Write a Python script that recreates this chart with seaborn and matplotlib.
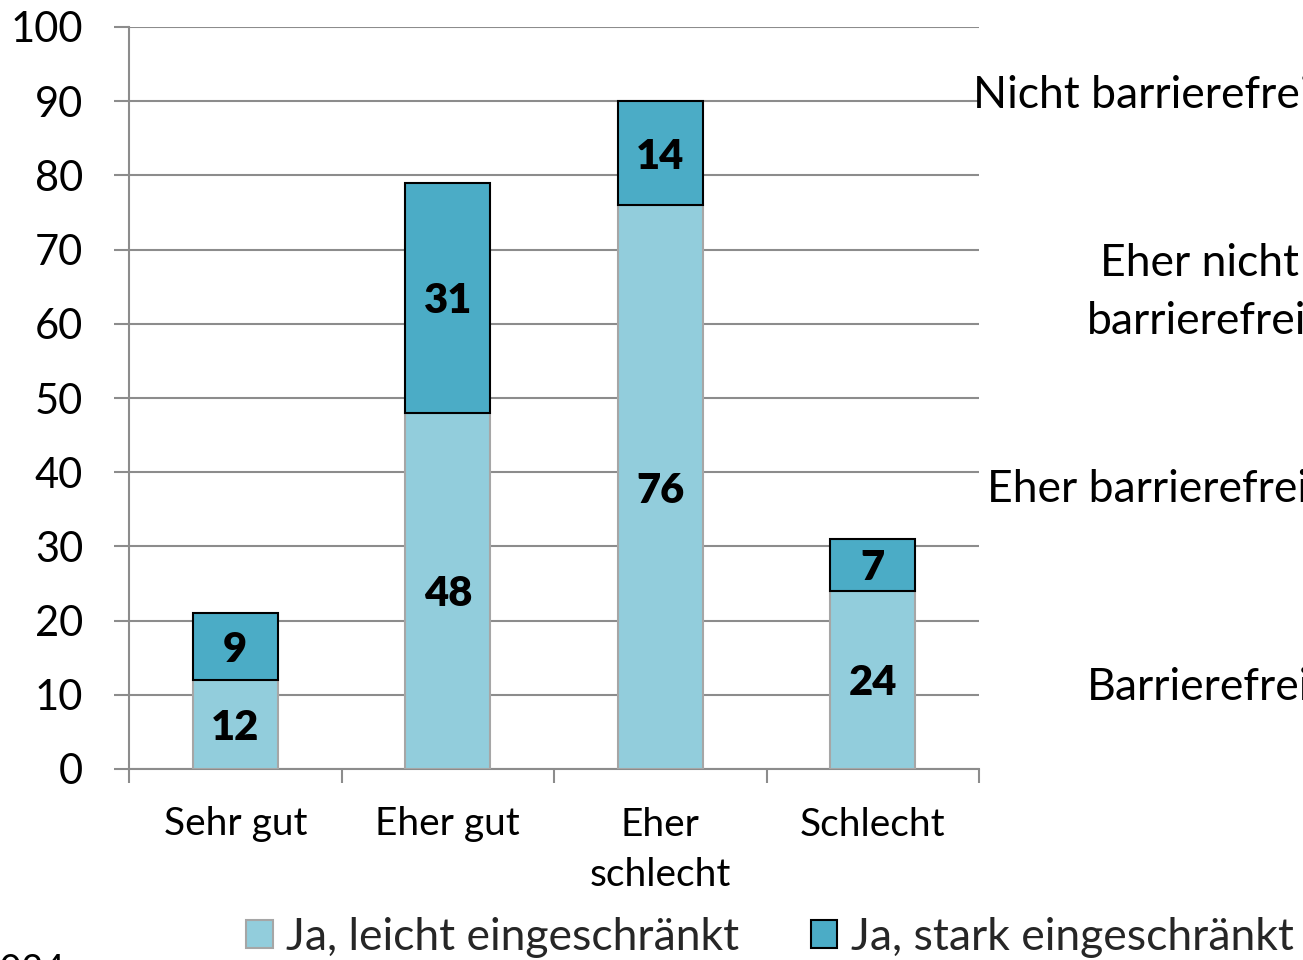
import matplotlib
matplotlib.use("Agg")
import matplotlib.pyplot as plt
from matplotlib.patches import Patch
import seaborn as sns
import pandas as pd
import numpy as np

# Data
categories = ["Sehr gut", "Eher gut", "Eher\nschlecht", "Schlecht"]
leicht = [12, 48, 76, 24]
stark = [9, 31, 14, 7]
series_names = ["Ja, leicht eingeschränkt", "Ja, stark eingeschränkt"]
y_ticks = [0, 10, 20, 30, 40, 50, 60, 70, 80, 90, 100]
side_labels = ["Nicht barrierefrei", "Eher nicht", "barrierefrei", "Eher barrierefrei", "Barrierefrei"]

LIGHT = "#92CDDC"
DARK = "#4BACC6"
GRID = "#8C8C8C"

sns.set_theme(style="white")
plt.rcParams["font.family"] = ["Lato", "DejaVu Sans"]

W, H = 1303, 960
fig = plt.figure(figsize=(W / 100, H / 100), dpi=100)
ax = fig.add_axes([129 / W, 1 - 769 / H, (979 - 129) / W, (769 - 27) / H])

df = pd.DataFrame({"cat": categories, "leicht": leicht, "stark": stark})

# Lower segment
sns.barplot(data=df, x="cat", y="leicht", color=LIGHT, width=0.4,
            edgecolor="#A6A6A6", linewidth=1.5, saturation=1, ax=ax, zorder=3)
# Upper segment stacked on top
xpos = np.arange(len(categories))
ax.bar(xpos, stark, bottom=leicht, width=0.4, color=DARK,
       edgecolor="black", linewidth=1.5, zorder=4)

# Value labels in the middle of each segment
for i in range(len(categories)):
    ax.text(i, leicht[i] / 2, str(leicht[i]), ha="center", va="center_baseline",
            fontsize=30, fontweight="heavy", color="black", zorder=5)
    ax.text(i, leicht[i] + stark[i] / 2, str(stark[i]), ha="center", va="center_baseline",
            fontsize=30, fontweight="heavy", color="black", zorder=5)

ax.set_xlim(-0.5, len(categories) - 0.5)
ax.set_ylim(0, 100)
ax.set_yticks(y_ticks)
ax.set_yticklabels([str(t) for t in y_ticks], fontsize=30)
ax.yaxis.grid(True, color=GRID, linewidth=1.5, zorder=0)
ax.set_axisbelow(True)
ax.set_xlabel("")
ax.set_ylabel("")

# Category labels at bar centres, tick marks at category boundaries
ax.set_xticks(xpos)
ax.set_xticklabels(categories, fontsize=28, linespacing=1.5)
ax.set_xticks(np.arange(len(categories) + 1) - 0.5, minor=True)
ax.tick_params(axis="x", which="major", length=0, pad=27, labelcolor="black")
ax.tick_params(axis="x", which="minor", length=10, width=1.5, color=GRID, direction="out")
ax.tick_params(axis="y", which="major", length=11, width=1.5, color=GRID, pad=22,
               direction="out", labelcolor="black")
ax.tick_params(bottom=True, left=True, which="both")

for side in ["top", "right"]:
    ax.spines[side].set_visible(False)
for side in ["left", "bottom"]:
    ax.spines[side].set_color(GRID)
    ax.spines[side].set_linewidth(1.5)

# Rating labels on the right
side_pos = [(973, 92), (1100, 259), (1087, 318), (987, 486), (1087, 683)]
for txt, (px, py) in zip(side_labels, side_pos):
    fig.text(px / W, 1 - py / H, txt, ha="left", va="center_baseline", fontsize=32, color="black")

# Legend
handles = [Patch(facecolor=LIGHT, edgecolor="#A6A6A6", linewidth=1.5),
           Patch(facecolor=DARK, edgecolor="black", linewidth=1.5)]
fig.legend(handles, series_names, loc="center", bbox_to_anchor=(770 / W, 1 - 937 / H),
           ncol=2, frameon=False, fontsize=32, handlelength=0.6, handleheight=0.6,
           handletextpad=0.3, columnspacing=1.6)

fig.text(-22 / W, 1 - 982 / H, "2024", ha="left", va="baseline", fontsize=27, color="black")

fig.savefig("out.png", dpi=100)
